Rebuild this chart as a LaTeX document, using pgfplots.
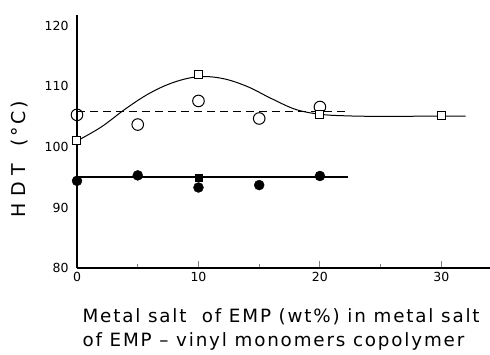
\documentclass[border=0pt]{standalone}
\usepackage{pgfplots}
\pgfplotsset{compat=1.18}
\usepackage{fontspec}
\setmainfont{DejaVu Sans}
\begin{document}
\begin{tikzpicture}
\useasboundingbox (-77pt,-87pt) rectangle (413pt,268pt);
\begin{axis}[
  at={(0,0)}, anchor=south west,
  width=413pt, height=253pt, scale only axis,
  xmin=0, xmax=34, ymin=80, ymax=121.8,
  axis x line=bottom, axis y line=left,
  axis line style={-, line width=1.3pt},
  xtick={0,10,20,30}, minor xtick={5,15,25},
  ytick={80,90,100,110,120},
  major tick length=7pt, minor tick length=3.5pt,
  tick align=inside,
  xtick style={line width=1pt},
  ytick style={draw=none},
  xticklabel style={font=\fontsize{12.5}{14}\selectfont, yshift=-1pt},
  yticklabel style={font=\fontsize{12.5}{14}\selectfont, xshift=-5pt},
  /pgf/number format/assume math mode=true,
  clip=false,
  xlabel={Metal salt \ of EMP (wt\%) in metal salt\\of EMP -- vinyl monomers copolymer},
  xlabel style={at={(axis description cs:0.005,0)}, anchor=north west, align=left,
    yshift=-37pt, font=\fontsize{18.3}{24}\selectfont\addfontfeature{LetterSpace=10}},
  ylabel={H\,\,D\,\,T\ \ (°C)},
  ylabel style={at={(axis description cs:-0.138,0.43)}, anchor=center,
    font=\fontsize{19}{22}\selectfont\addfontfeature{LetterSpace=14}},
]
% dashed line (open circles)
\addplot[black, line width=1pt, dash pattern=on 8pt off 5pt] coordinates {(0,105.8) (22.3,105.8)};
% solid line (filled circles)
\addplot[black, line width=1.2pt] coordinates {(0,95.05) (22.3,95.05)};
% smooth curve (open squares)
\addplot[black, line width=1pt, smooth, tension=0.6] coordinates {
 (0,101.0) (2,103.3) (4,106.3) (6,108.9) (8,110.7) (10,111.6) (12,111.3) (14,110.0) (16,108.0) (18,106.2) (20,105.4) (22,105.15) (25,105.05) (30,105.1) (32,105.1)};
% open circles
\addplot[only marks, mark=o, mark size=5.8pt, mark options={fill=white, line width=1pt}] coordinates {
 (0,105.3) (5,103.7) (10,107.6) (15,104.7) (20,106.6)};
% open squares
\addplot[only marks, mark=square*, mark size=4pt, mark options={fill=white, draw=black, line width=1pt}] coordinates {
 (0,101.0) (10,112.0) (20,105.3) (30,105.2)};
% filled circles
\addplot[only marks, mark=*, mark size=5pt, black] coordinates {
 (0,94.4) (5,95.3) (10,93.3) (15,93.7) (20,95.2)};
% filled square
\addplot[only marks, mark=square*, mark size=3.5pt, black] coordinates {(10,95.0)};
\end{axis}
\end{tikzpicture}
\end{document}
